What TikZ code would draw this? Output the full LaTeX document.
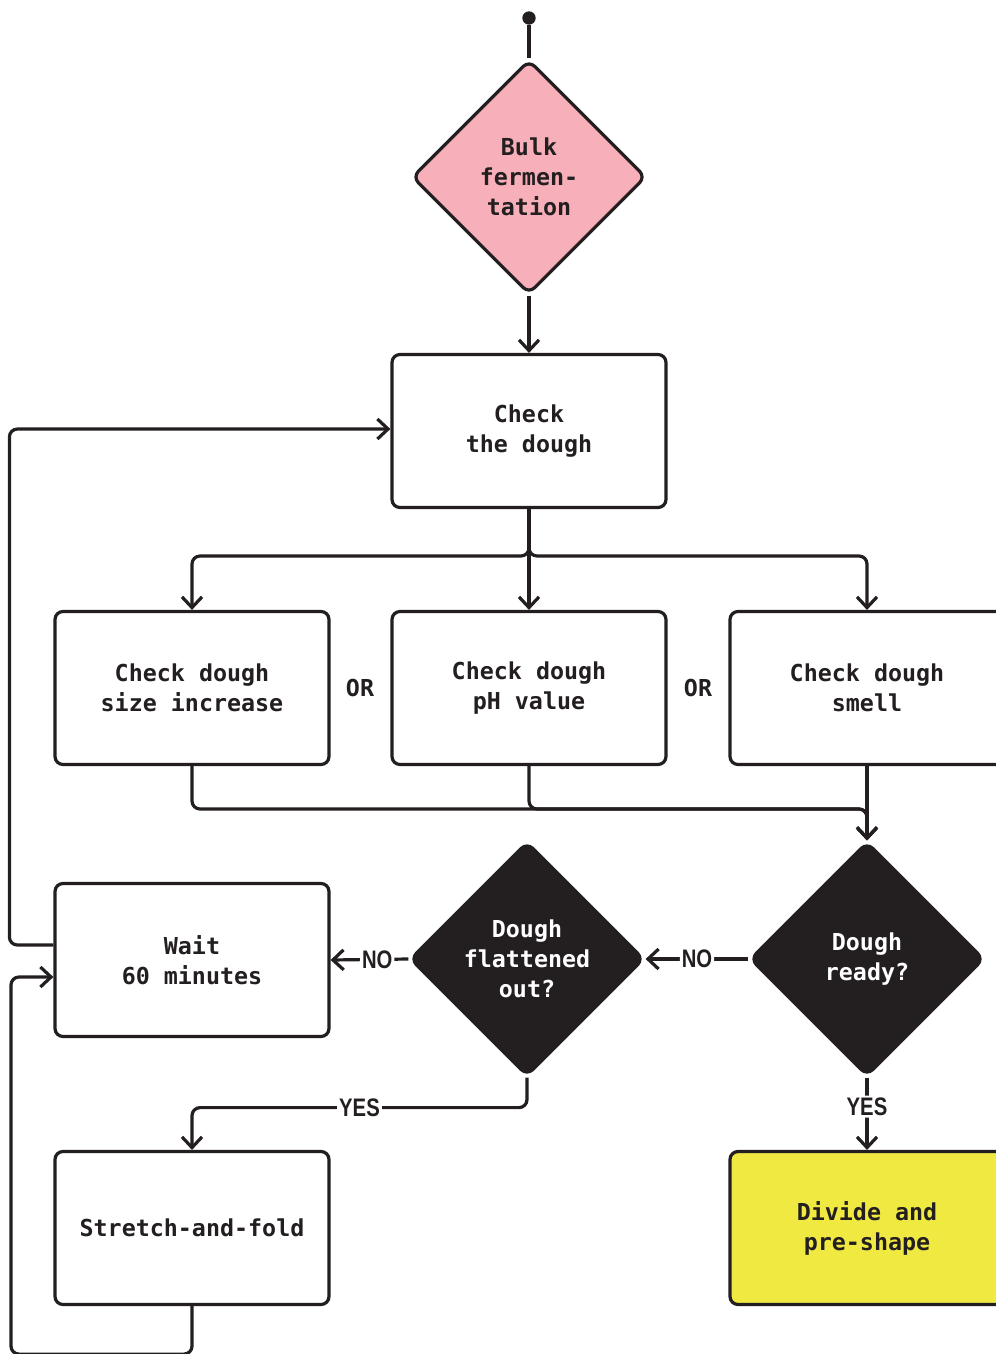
\documentclass[tikz,border=0pt]{standalone}
\usepackage{fontspec}
\setmonofont{DejaVu Sans Mono}
\newfontfamily\condfont[FakeStretch=0.8]{Liberation Sans}
\usetikzlibrary{shapes.geometric,arrows.meta}
\definecolor{ink}{HTML}{231F20}
\definecolor{rose}{HTML}{F7AFBA}
\definecolor{lemon}{HTML}{F0E942}
\newcommand{\boxfont}{\ttfamily\bfseries\fontsize{17.5}{22.5}\selectfont}
\tikzset{
  boxnode/.style={draw=ink, line width=2.4pt, rounded corners=6pt, fill=white,
    minimum width=205.5pt, minimum height=114.75pt, align=center, text=ink, font=\boxfont},
  decnode/.style={diamond, draw=ink, line width=2.4pt, rounded corners=6pt, inner sep=0pt,
    minimum width=175.5pt, minimum height=175.5pt, align=center, font=\boxfont},
  flow/.style={draw=ink, line width=2.4pt, rounded corners=6pt},
  lbl/.style={fill=white, inner sep=1.5pt, text=ink, font=\condfont\bfseries\fontsize{19}{19}\selectfont},
  >={Straight Barb[length=8pt,width=15pt]}
}
\begin{document}
\begin{tikzpicture}[x=0.75pt,y=-0.75pt]
\useasboundingbox (0,0) rectangle (996,1354);
\node[circle, fill=ink, inner sep=0pt, minimum size=10pt] (st) at (529,18) {};
\node[decnode, fill=rose, text=ink] (bf) at (529,177) {Bulk\\fermen-\\tation};
\node[boxnode] (c) at (529,431) {Check\\the dough};
\node[boxnode] (l) at (192,688) {Check dough\\size increase};
\node[boxnode] (m) at (529,688) {Check dough\\pH value};
\node[boxnode] (r) at (867,688) {Check dough\\smell};
\node[text=ink, font=\boxfont] (o1) at (360,688) {OR};
\node[text=ink, font=\boxfont] (o2) at (698,688) {OR};
\node[decnode, fill=ink, text=white] (dr) at (867,959) {Dough\\ready?};
\node[decnode, fill=ink, text=white] (df) at (527,959) {Dough\\flattened\\out?};
\node[boxnode] (w) at (192,960) {Wait\\60 minutes};
\node[boxnode] (s) at (192,1228) {Stretch-and-fold};
\node[boxnode, fill=lemon] (d) at (867,1228) {Divide and\\pre-shape};
\coordinate (jt) at (529,556);
\coordinate (jb) at (867,809);
\draw[flow] (st) -- (bf.north);
\draw[flow,->] (bf.south) -- (c.north);
\draw[flow,->] (c.south) -- (jt) -| (l.north);
\draw[flow,->] (c.south) -- (jt) -| (r.north);
\draw[flow,->] (c.south) -- (m.north);
\draw[flow,->] (l.south) |- (jb) -- (dr.north);
\draw[flow,->] (m.south) |- (jb) -- (dr.north);
\draw[flow,->] (r.south) -- (dr.north);
\draw[flow,->] (dr.west) -- node[lbl] {NO} (df.east);
\draw[flow,->] (df.west) -- node[lbl, pos=0.4] {NO} (w.east);
\draw[flow,->] (df.south) -- ++(0,30) -| node[lbl, pos=0.25] {YES} (s.north);
\draw[flow,->] (dr.south) -- node[lbl, pos=0.4] {YES} (d.north);
\draw[flow,->] ([yshift=11.25pt]w.west) -- ++(-44,0) |- ([yshift=1.5pt]c.west);
\draw[flow,->] (s.south) -- ++(0,48) -- ++(-181,0) |- ([yshift=-12.75pt]w.west);
\end{tikzpicture}
\end{document}
